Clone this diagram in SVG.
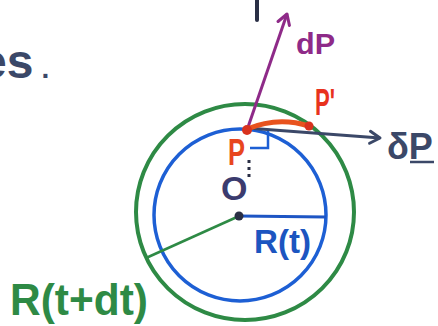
<svg xmlns="http://www.w3.org/2000/svg" width="438" height="326" viewBox="0 0 438 326">
<defs>
<style>
text{font-family:"Liberation Sans","DejaVu Sans",sans-serif;}
.ring{fill:none;}
.lbl{font-weight:bold;}
</style>
<marker id="ahP" viewBox="-12 -8 14 16" markerWidth="14" markerHeight="16" refX="0" refY="0" orient="auto" markerUnits="userSpaceOnUse">
<path d="M-10,-6 L0,0 L-10,6" fill="none" stroke="#8e2a88" stroke-width="3" stroke-linecap="round" stroke-linejoin="round"/>
</marker>
<marker id="ahD" viewBox="-12 -8 14 16" markerWidth="14" markerHeight="16" refX="0" refY="0" orient="auto" markerUnits="userSpaceOnUse">
<path d="M-10,-6 L0,0 L-10,6" fill="none" stroke="#3b4868" stroke-width="3" stroke-linecap="round" stroke-linejoin="round"/>
</marker>
</defs>
<rect width="438" height="326" fill="#ffffff"/>

<g id="fragments">
<text x="-20" y="78" font-size="48" font-weight="bold" fill="#3b4868">es<tspan dx="8" font-size="28">.</tspan></text>
<line x1="257" y1="0" x2="257" y2="20" stroke="#2a2f45" stroke-width="4" stroke-linecap="round"/>
</g>

<g id="outer-circle">
<ellipse class="ring" cx="245" cy="212" rx="109" ry="108" stroke="#2e8a45" stroke-width="4"/>
</g>
<g id="inner-circle">
<circle class="ring" cx="240" cy="215" r="86" stroke="#1d5fd4" stroke-width="3.5"/>
</g>

<g id="connectors">
<line x1="239" y1="216" x2="326" y2="217" stroke="#1d55c4" stroke-width="3"/>
<line x1="237" y1="217" x2="146" y2="258" stroke="#2e8a45" stroke-width="2.5"/>
<line x1="247" y1="130" x2="287" y2="14" stroke="#8e2a88" stroke-width="3" marker-end="url(#ahP)"/>
<line x1="247" y1="128" x2="380" y2="138" stroke="#3b4868" stroke-width="3" marker-end="url(#ahD)"/>
<path d="M247,129 Q278,116 309,126" fill="none" stroke="#e8531e" stroke-width="5" stroke-linecap="round"/>
<line x1="249" y1="160" x2="249" y2="180" stroke="#2a2f45" stroke-width="3" stroke-dasharray="3 4"/>
<polyline points="268,131 268,148 250,148" fill="none" stroke="#1d5fd4" stroke-width="2.5"/>
</g>

<g id="point-P">
<circle cx="247" cy="130" r="5" fill="#d8321e"/>
<text class="lbl" x="228" y="165" font-size="36" fill="#e8461e" textLength="17" lengthAdjust="spacingAndGlyphs">P</text>
</g>
<g id="point-Pprime">
<circle cx="309" cy="126" r="4.5" fill="#d8321e"/>
<text class="lbl" x="315" y="115" font-size="36" fill="#e8321e" textLength="20" lengthAdjust="spacingAndGlyphs">P'</text>
</g>
<g id="label-dP">
<text class="lbl" x="296" y="54" font-size="30" fill="#8e2a88" textLength="39" lengthAdjust="spacingAndGlyphs">dP</text>
</g>
<g id="label-deltaP">
<text class="lbl" x="387" y="159" font-size="36" fill="#3b4868">δP</text>
<line x1="410" y1="162" x2="434" y2="162" stroke="#3b4868" stroke-width="2.5"/>
</g>
<g id="label-O">
<text class="lbl" x="221" y="200" font-size="34" fill="#3b3b6e">O</text>
</g>
<g id="center">
<circle cx="239" cy="216" r="4.5" fill="#2a2f45"/>
</g>
<g id="label-Rt">
<text class="lbl" x="254" y="253" font-size="34" fill="#1c55c0" textLength="57" lengthAdjust="spacingAndGlyphs">R(t)</text>
</g>
<g id="label-Rtdt">
<text class="lbl" x="10" y="315" font-size="44" fill="#2e8a45" textLength="138" lengthAdjust="spacingAndGlyphs">R(t+dt)</text>
</g>
</svg>
